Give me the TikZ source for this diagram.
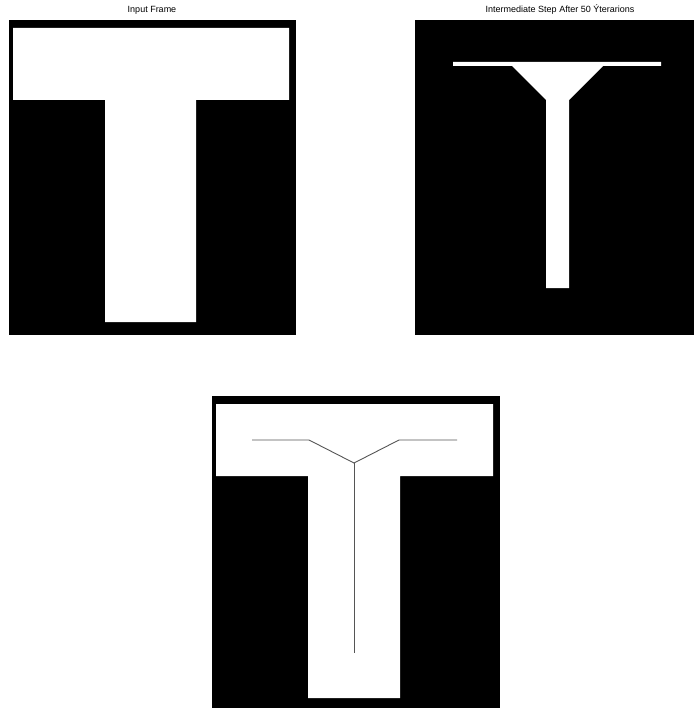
\documentclass[tikz,border=0pt]{standalone}
\usepackage{fontspec}
\setmainfont{Liberation Sans}
\usepackage{tikz}
\usetikzlibrary{positioning,calc}
\usepackage{xcolor}
\definecolor{skelgray}{RGB}{85,85,85}

\begin{document}
\begin{tikzpicture}[x=1pt,y=-1pt,
    frame/.style={fill=black,draw=none},
    tshape/.style={fill=white,draw=none},
    skel/.style={draw=skelgray,line width=0.9pt},
    title/.style={font=\fontsize{9}{10}\selectfont,inner sep=0pt}]
    \useasboundingbox (0,0) rectangle (694,708);
    % input frame
    \node[title] (inTitle) at (152,10) {Input Frame};
    \fill[frame] (9,20) rectangle (296,335);
    \fill[tshape] (13,28) -- (289,28) -- (289,100) -- (196,100) -- (196,322)
        -- (105,322) -- (105,100) -- (13,100) -- cycle;
    % after 50 iterations
    \node[title] (midTitle) at (560,10) {Intermediate Step After 50 Ýterarions};
    \fill[frame] (415,20) rectangle (694,335);
    \fill[tshape] (453,62) -- (661,62) -- (661,66) -- (603,66) -- (569,100)
        -- (569,288) -- (546,288) -- (546,100) -- (512,66) -- (453,66) -- cycle;
    % skeleton result
    \fill[frame] (212,396) rectangle (500,708);
    \fill[tshape] (216,404) -- (493,404) -- (493,476) -- (400,476) -- (400,698)
        -- (308,698) -- (308,476) -- (216,476) -- cycle;
    \coordinate (lEnd) at (252,440);
    \coordinate (lBend) at (309,440);
    \coordinate (joint) at (354,463);
    \coordinate (rBend) at (399,440);
    \coordinate (rEnd) at (457,440);
    \coordinate (tail) at (354,653);
    \draw[skel] (lEnd) -- (lBend) -- (joint) -- (rBend) -- (rEnd);
    \draw[skel] (joint) -- (tail);
\end{tikzpicture}
\end{document}
